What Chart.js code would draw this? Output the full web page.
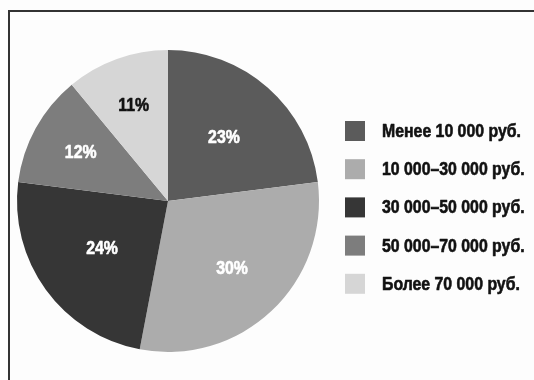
<!DOCTYPE html>
<html>
<head>
<meta charset="utf-8">
<script src="https://cdn.jsdelivr.net/npm/chart.js@4/dist/chart.umd.min.js"></script>
<style>
  html, body { margin: 0; padding: 0; background: #fdfdfd; }
  #wrap { position: relative; width: 534px; height: 380px; }
  canvas { display: block; }
</style>
</head>
<body>
<div id="wrap"><canvas id="c" width="534" height="380"></canvas></div>
<script>
// Income groups and their shares, in percent
const categories = [
  'Менее 10 000 руб.',
  '10 000–30 000 руб.',
  '30 000–50 000 руб.',
  '50 000–70 000 руб.',
  'Более 70 000 руб.'
];
const shares = [23, 30, 24, 12, 11];
const sliceColors = ['#5b5b5b', '#acacac', '#363636', '#7d7d7d', '#d6d6d6'];
const labelColors = ['#ffffff', '#ffffff', '#ffffff', '#ffffff', '#111111'];

const FONT = '"Liberation Sans", Arial, sans-serif';
// horizontal squeeze that gives the bold face a condensed look
const SQUEEZE = 0.88;

// Frame lines along the top and left edges
const framePlugin = {
  id: 'frame',
  beforeDraw(chart) {
    const ctx = chart.ctx;
    ctx.save();
    ctx.fillStyle = '#fdfdfd';
    ctx.fillRect(0, 0, chart.width, chart.height);
    ctx.strokeStyle = '#333333';
    ctx.lineWidth = 2;
    ctx.beginPath();
    ctx.moveTo(9, chart.height);
    ctx.lineTo(9, 11);
    ctx.lineTo(chart.width, 11);
    ctx.stroke();
    ctx.restore();
  }
};

function condensedText(ctx, txt, x, y, align) {
  ctx.save();
  ctx.translate(x, y);
  ctx.scale(SQUEEZE, 1);
  ctx.textAlign = align;
  ctx.strokeStyle = ctx.fillStyle;
  ctx.lineWidth = 0.6;
  ctx.lineJoin = 'round';
  ctx.strokeText(txt, 0, 0);
  ctx.fillText(txt, 0, 0);
  ctx.restore();
}

// Percent labels inside the slices
const sliceLabels = {
  id: 'sliceLabels',
  afterDatasetsDraw(chart, args, opts) {
    const ctx = chart.ctx;
    const meta = chart.getDatasetMeta(0);
    const values = chart.data.datasets[0].data;
    ctx.save();
    ctx.font = 'bold 18px ' + FONT;
    ctx.textBaseline = 'middle';
    meta.data.forEach((arc, i) => {
      const p = arc.getProps(['x', 'y', 'startAngle', 'endAngle', 'outerRadius'], true);
      const mid = (p.startAngle + p.endAngle) / 2;
      const r = p.outerRadius * opts.radial[i];
      ctx.fillStyle = labelColors[i];
      condensedText(ctx, values[i] + '%', p.x + Math.cos(mid) * r, p.y + Math.sin(mid) * r, 'center');
    });
    ctx.restore();
  }
};

// Legend column to the right of the pie
const sideLegend = {
  id: 'sideLegend',
  afterDraw(chart, args, opts) {
    const ctx = chart.ctx;
    const labels = chart.data.labels;
    const colors = chart.data.datasets[0].backgroundColor;
    ctx.save();
    ctx.font = 'bold 18px ' + FONT;
    ctx.textBaseline = 'middle';
    labels.forEach((txt, i) => {
      const y = opts.y0 + i * opts.step;
      ctx.fillStyle = colors[i];
      ctx.fillRect(opts.x, y - 10, 20, 20);
      ctx.fillStyle = '#111111';
      condensedText(ctx, txt, opts.x + 37, y + 1, 'left');
    });
    ctx.restore();
  }
};

new Chart(document.getElementById('c'), {
  type: 'pie',
  data: {
    labels: categories,
    datasets: [{
      data: shares,
      backgroundColor: sliceColors,
      borderWidth: 0
    }]
  },
  options: {
    responsive: false,
    animation: false,
    layout: { padding: { left: 17, top: 49, right: 215, bottom: 27 } },
    plugins: {
      legend: { display: false },
      tooltip: { enabled: false },
      sliceLabels: { radial: [0.56, 0.62, 0.54, 0.66, 0.67] },
      sideLegend: { x: 345, y0: 131, step: 38.2 }
    }
  },
  plugins: [framePlugin, sliceLabels, sideLegend]
});
</script>
</body>
</html>
